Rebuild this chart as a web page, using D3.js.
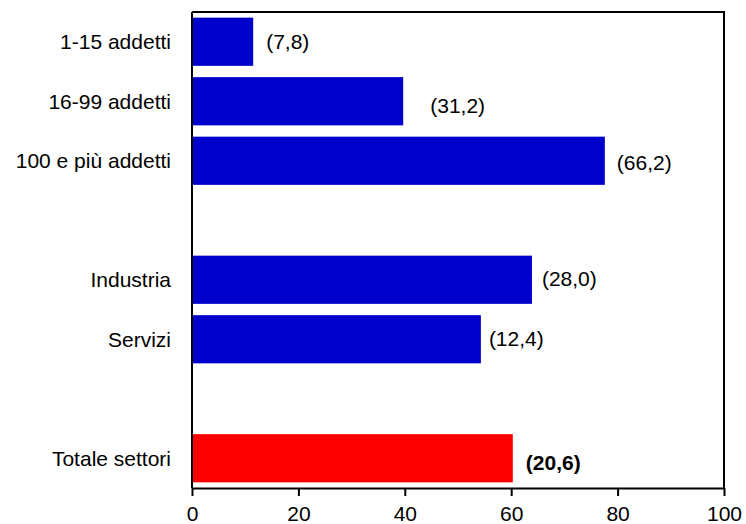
<!DOCTYPE html>
<html>
<head>
<meta charset="utf-8">
<script src="https://cdn.jsdelivr.net/npm/d3@7"></script>
<style>
  body { margin: 0; background: #fff; }
  text { font-family: "Liberation Sans", Arial, sans-serif; fill: #000; }
</style>
</head>
<body>
<svg id="chart" width="746" height="524"></svg>
<script>
// slots, "" = empty gap row
let categories = ["1-15 addetti", "16-99 addetti", "100 e più addetti", "",
                  "Industria", "Servizi", "", "Totale settori"];
let values = [11.5, 39.7, 77.6, null, 63.9, 54.3, null, 60.3];
let labels = ["(7,8)", "(31,2)", "(66,2)", "", "(28,0)", "(12,4)", "", "(20,6)"];
let ticks = [0, 20, 40, 60, 80, 100];

// label nudges (dx, dy) as in the original
let nudge = [[13, 0], [27, 4], [12, 2], [0, 0], [10, -1], [8, -1], [0, 0], [13, 4]];

var config = {
    left: 192,
    right: 724,
    top: 12,
    bottom: 488,
    fontSize: 21
}

let svg = d3.select('#chart');

let x = d3.scaleLinear()
    .domain([0, 100])
    .range([config.left, config.right]);

let y = d3.scaleBand()
    .domain(d3.range(categories.length))
    .range([config.top, config.bottom])
    .paddingInner(0.19)
    .paddingOuter(0.095);

let rows = d3.range(categories.length).filter(function(i){ return values[i] != null });

// bars
svg.append('g')
    .selectAll('rect')
    .data(rows)
    .join('rect')
    .attr('x', x(0))
    .attr('y', function(i){ return y(i) })
    .attr('width', function(i){ return x(values[i]) - x(0) })
    .attr('height', y.bandwidth())
    .attr('fill', function(i){ return i == 7 ? '#ff0000' : '#0000cc' });

// value labels
svg.append('g')
    .selectAll('text')
    .data(rows)
    .join('text')
    .attr('x', function(i){ return x(values[i]) + nudge[i][0] })
    .attr('y', function(i){ return y(i) + y.bandwidth() / 2 + nudge[i][1] })
    .attr('dy', '0.35em')
    .attr('font-size', config.fontSize)
    .attr('font-weight', function(i){ return i == 7 ? 'bold' : 'normal' })
    .text(function(i){ return labels[i] });

// category labels
svg.append('g')
    .selectAll('text')
    .data(rows)
    .join('text')
    .attr('x', 171)
    .attr('y', function(i){ return y(i) + y.bandwidth() / 2 })
    .attr('dy', '0.35em')
    .attr('text-anchor', 'end')
    .attr('font-size', config.fontSize)
    .text(function(i){ return categories[i] });

// frame (top + right)
svg.append('path')
    .attr('d', 'M' + config.left + ',' + config.top + 'H' + config.right + 'V' + config.bottom)
    .attr('fill', 'none')
    .attr('stroke', '#000')
    .attr('stroke-width', 2);

// y axis line
svg.append('line')
    .attr('x1', config.left).attr('x2', config.left)
    .attr('y1', config.top).attr('y2', config.bottom)
    .attr('stroke', '#000')
    .attr('stroke-width', 2);

// x axis
let xAxis = svg.append('g')
    .attr('transform', 'translate(0,' + config.bottom + ')')
    .call(d3.axisBottom(x).tickValues(ticks).tickSize(8).tickSizeOuter(0).tickPadding(10));

xAxis.select('.domain').attr('stroke-width', 2);
xAxis.selectAll('.tick line').attr('stroke-width', 2);
xAxis.selectAll('.tick text')
    .attr('font-size', config.fontSize)
    .attr('font-family', '"Liberation Sans", Arial, sans-serif');
</script>
</body>
</html>
